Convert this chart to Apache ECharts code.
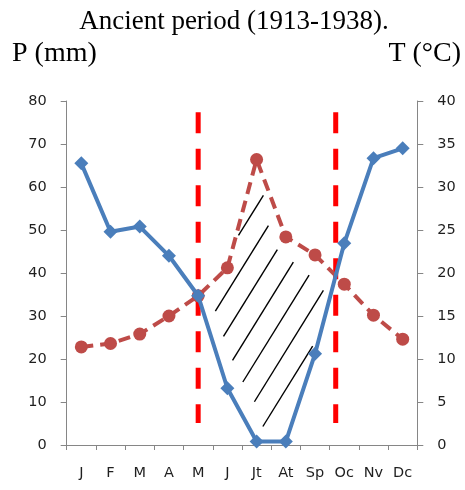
<!DOCTYPE html>
<html>
<head>
<meta charset="utf-8">
<script src="https://cdn.jsdelivr.net/npm/echarts@6/dist/echarts.min.js"></script>
<style>
  html, body { margin: 0; padding: 0; background: #ffffff; }
  #chart { width: 465px; height: 490px; }
</style>
</head>
<body>
<div id="chart"></div>
<script>
// Monthly climate data, ancient period 1913-1938
const months = ['J', 'F', 'M', 'A', 'M', 'J', 'Jt', 'At', 'Sp', 'Oc', 'Nv', 'Dc'];
const precipitation = [65.5, 49.6, 50.8, 44.0, 34.7, 13.2, 0.8, 0.8, 21.2, 46.9, 66.7, 69.0]; // mm
const temperature = [11.4, 11.8, 12.9, 15.0, 17.35, 20.6, 33.2, 24.2, 22.1, 18.7, 15.1, 12.3]; // °C

// Axis scales (P = 2T convention of the ombrothermic diagram)
const pAxis = { min: 0, max: 80, interval: 10 };
const tAxis = { min: 0, max: 40, interval: 5 };
const dryLineRange = [77.4, 5.1]; // vertical extent of the dry-season markers, in mm

const BLUE = '#4A7EBB';
const RED = '#BE4B48';
const labelFont = 'DejaVu Sans';
const serif = 'Liberation Serif';

const ratio = pAxis.max / tAxis.max;
const lerp = (arr, x) => {
  const i = Math.floor(x), f = x - i;
  if (f === 0 || i >= arr.length - 1) return arr[i];
  return arr[i] + f * (arr[i + 1] - arr[i]);
};

// Fractional month positions where P crosses 2T
function crossings() {
  const out = [];
  for (let i = 0; i < months.length - 1; i++) {
    const d0 = precipitation[i] - ratio * temperature[i];
    const d1 = precipitation[i + 1] - ratio * temperature[i + 1];
    if ((d0 >= 0 && d1 < 0) || (d0 < 0 && d1 >= 0)) out.push(i + d0 / (d0 - d1));
  }
  return out;
}

function renderDrySeason(params, api) {
  const toPx = (x, v) => {
    const a = api.coord([0, v]);
    const b = api.coord([1, v]);
    return [a[0] + x * (b[0] - a[0]), a[1]];
  };
  const cr = crossings();
  const c0 = cr[0], c1 = cr[1];
  const children = [];

  // polygon: temperature curve on top, precipitation below
  const xs = [c0];
  for (let i = Math.ceil(c0 + 1e-9); i < c1; i++) if (i > c0) xs.push(i);
  xs.push(c1);
  const poly = [];
  xs.forEach(x => poly.push(toPx(x, ratio * lerp(temperature, x))));
  xs.slice().reverse().forEach(x => poly.push(toPx(x, lerp(precipitation, x))));

  // diagonal hatching clipped to the polygon
  const k = 0.62, spacing = 23.8;
  const cs = poly.map(p => p[0] + k * p[1]);
  const cmin = Math.min(...cs), cmax = Math.max(...cs);
  for (let c = cmin + 29; c < cmax; c += spacing) {
    const pts = [];
    for (let j = 0; j < poly.length; j++) {
      const p = poly[j], q = poly[(j + 1) % poly.length];
      const fp = p[0] + k * p[1] - c, fq = q[0] + k * q[1] - c;
      if ((fp > 0) !== (fq > 0)) {
        const t = fp / (fp - fq);
        pts.push([p[0] + t * (q[0] - p[0]), p[1] + t * (q[1] - p[1])]);
      }
    }
    pts.sort((a, b) => a[1] - b[1]);
    for (let m = 0; m + 1 < pts.length; m += 2) {
      const a = pts[m], b = pts[m + 1];
      const dx = b[0] - a[0], dy = b[1] - a[1];
      const len = Math.hypot(dx, dy);
      if (len < 50) continue;
      const trim = 0.11 * len + 1;
      const ux = dx / len, uy = dy / len;
      children.push({
        type: 'line',
        shape: { x1: a[0] + ux * trim, y1: a[1] + uy * trim, x2: b[0] - ux * trim, y2: b[1] - uy * trim },
        style: { stroke: '#000000', lineWidth: 1.4 }
      });
    }
  }

  // dashed boundaries of the dry season
  [c0, c1].forEach(x => {
    const top = toPx(x, dryLineRange[0]);
    const bot = toPx(x, dryLineRange[1]);
    children.push({
      type: 'line',
      shape: { x1: top[0], y1: top[1], x2: bot[0], y2: bot[1] },
      style: { stroke: '#FF0000', lineWidth: 5, lineDash: [21, 15.5], lineCap: 'butt' }
    });
  });
  return { type: 'group', children };
}

const axisLineStyle = { show: true, lineStyle: { color: '#868686', width: 1 } };
const tickLabel = { color: '#1F1F1F', fontFamily: labelFont, fontSize: 14.5, margin: 20 };

const chart = echarts.init(document.getElementById('chart'), null, { renderer: 'canvas' });
chart.setOption({
  animation: false,
  backgroundColor: '#ffffff',
  grid: { left: 66.7, right: 47.7, top: 101, bottom: 45, containLabel: false, outerBoundsMode: 'none' },
  graphic: [
    { type: 'text', x: 234, y: 22, style: { text: 'Ancient period (1913-1938).', font: '27px "' + serif + '"', fill: '#000', align: 'center', verticalAlign: 'middle' } },
    { type: 'text', x: 12, y: 54, style: { text: 'P (mm)', font: '28px "' + serif + '"', fill: '#000', align: 'left', verticalAlign: 'middle' } },
    { type: 'text', x: 461, y: 54, style: { text: 'T (°C)', font: '28px "' + serif + '"', fill: '#000', align: 'right', verticalAlign: 'middle' } }
  ],
  xAxis: {
    type: 'category',
    data: months,
    boundaryGap: true,
    axisLine: axisLineStyle,
    axisTick: { show: true, length: 5, lineStyle: { color: '#868686' } },
    axisLabel: { color: '#1F1F1F', fontFamily: labelFont, fontSize: 14.5, margin: 21, interval: 0 },
    splitLine: { show: false }
  },
  yAxis: [
    {
      type: 'value', position: 'left', min: pAxis.min, max: pAxis.max, interval: pAxis.interval,
      axisLine: axisLineStyle,
      axisTick: { show: true, length: 6, lineStyle: { color: '#868686' } },
      axisLabel: tickLabel,
      splitLine: { show: false }
    },
    {
      type: 'value', position: 'right', min: tAxis.min, max: tAxis.max, interval: tAxis.interval,
      axisLine: axisLineStyle,
      axisTick: { show: true, length: 6, lineStyle: { color: '#868686' } },
      axisLabel: tickLabel,
      splitLine: { show: false }
    }
  ],
  series: [
    {
      type: 'custom',
      name: 'dry season',
      xAxisIndex: 0,
      yAxisIndex: 0,
      data: [[0, 0]],
      renderItem: renderDrySeason,
      silent: true,
      clip: false,
      z: 1
    },
    {
      type: 'line',
      name: 'P (mm)',
      yAxisIndex: 0,
      data: precipitation,
      symbol: 'diamond',
      symbolSize: 14,
      lineStyle: { color: BLUE, width: 4 },
      itemStyle: { color: BLUE, borderWidth: 0 },
      z: 3
    },
    {
      type: 'line',
      name: 'T (°C)',
      yAxisIndex: 1,
      data: temperature,
      symbol: 'circle',
      symbolSize: 13,
      lineStyle: { color: RED, width: 4, type: [12, 7] },
      itemStyle: { color: RED, borderWidth: 0 },
      z: 2
    }
  ]
});
</script>
</body>
</html>
